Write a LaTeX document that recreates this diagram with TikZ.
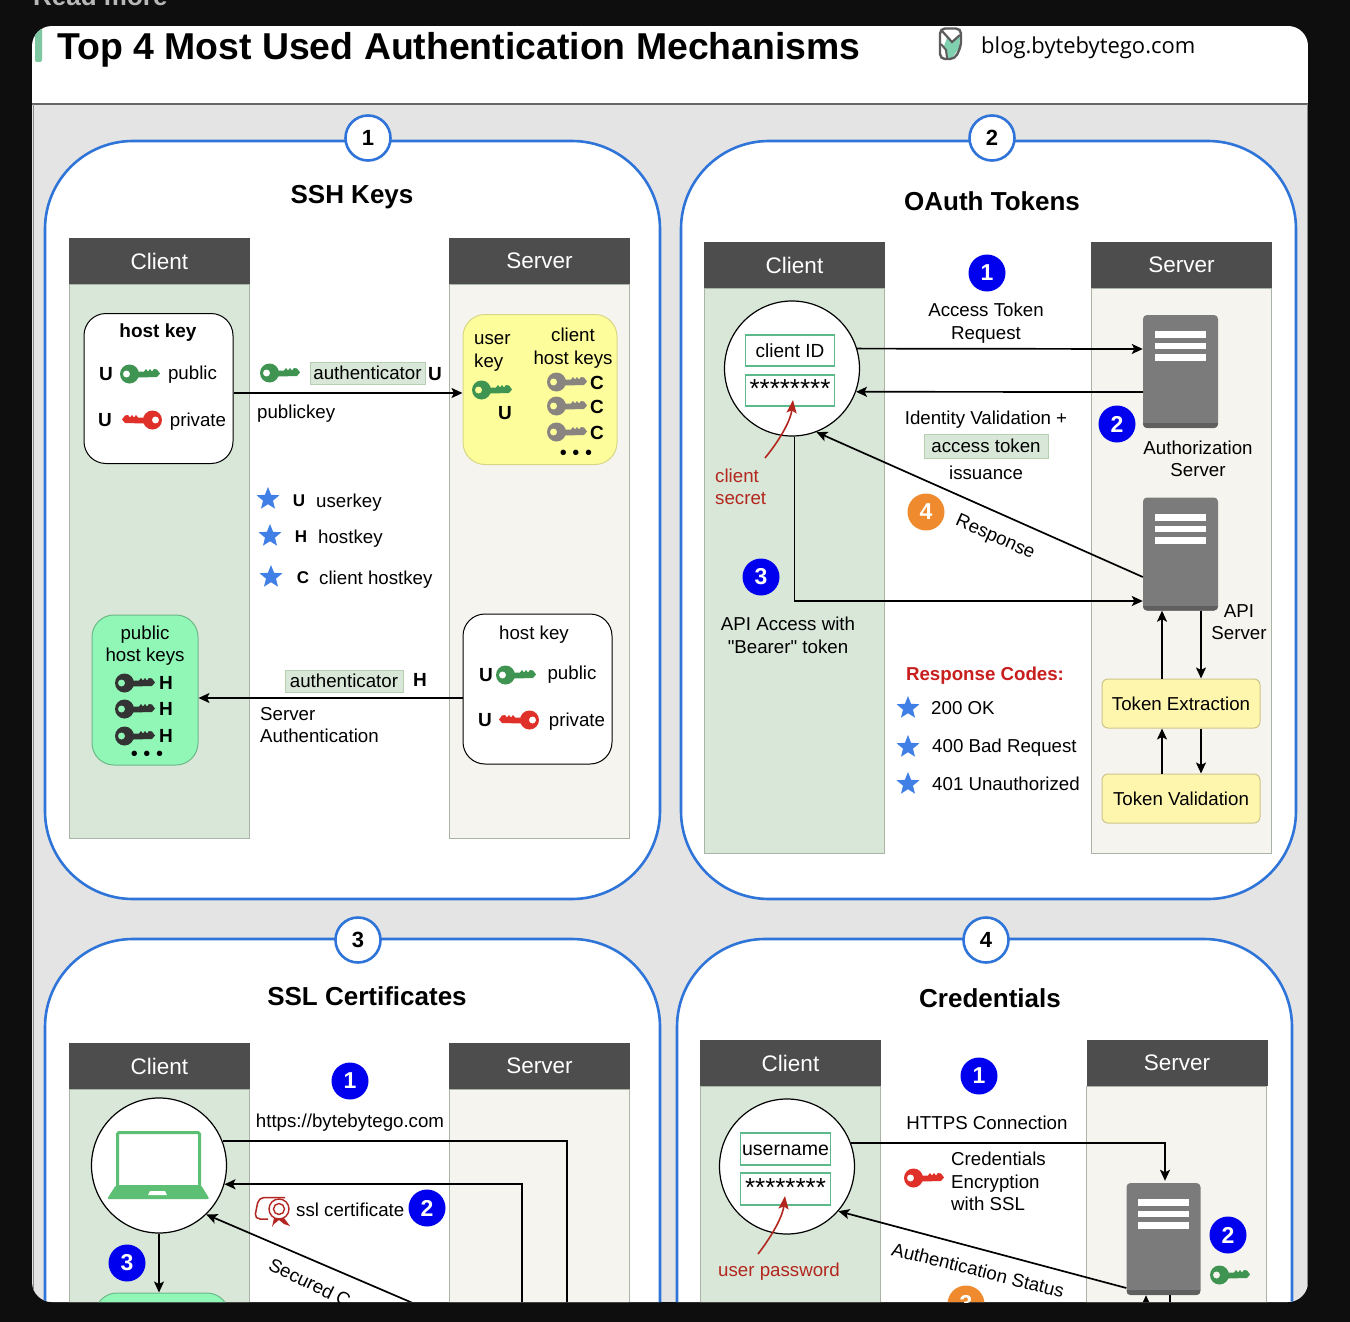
\documentclass[tikz,border=0pt]{standalone}
\usepackage{xcolor}
\usepackage{fontspec}
\setmainfont{Liberation Sans}[Ligatures=TeXOff]
\newfontfamily\blogfont{Open Sans}
\usetikzlibrary{shapes.geometric, arrows.meta, positioning, calc}

\definecolor{pagebg}{HTML}{0E0E0E}
\definecolor{cardgray}{HTML}{E4E4E4}
\definecolor{panelblue}{HTML}{2F74D8}
\definecolor{headgray}{HTML}{4D4D4D}
\definecolor{clientbg}{HTML}{D9E7D8}
\definecolor{serverbg}{HTML}{F6F4EE}
\definecolor{lanerule}{HTML}{A9B3A6}
\definecolor{taggreen}{HTML}{B5CFB0}
\definecolor{fieldgreen}{HTML}{5CB98A}
\definecolor{logoteal}{HTML}{7FD1B0}
\definecolor{keygreen}{HTML}{3E9450}
\definecolor{keyred}{HTML}{E0302A}
\definecolor{keygray}{HTML}{8A8480}
\definecolor{keydark}{HTML}{333333}
\definecolor{softyellow}{HTML}{FDFD9C}
\definecolor{softgreen}{HTML}{90F7B6}
\definecolor{tokenyellow}{HTML}{FFF6AE}
\definecolor{badgeblue}{HTML}{0000EE}
\definecolor{badgeorange}{HTML}{EF8A2E}
\definecolor{starblue}{HTML}{3F7FE6}
\definecolor{srvgray}{HTML}{7B7B7B}
\definecolor{srvdark}{HTML}{5F5F5F}
\definecolor{notered}{HTML}{B3261E}
\definecolor{codered}{HTML}{C81E1E}
\definecolor{lapgreen}{HTML}{5CBF73}
\newcommand{\fsz}[2]{\fontsize{#1}{#2}\selectfont}

\begin{document}
\begin{tikzpicture}[x=1pt, y=-1pt]
% Define styles
\tikzstyle{panel} = [rectangle, rounded corners=88pt, draw=panelblue, line width=2.6pt, fill=white, minimum width=615pt, inner sep=0pt]
\tikzstyle{numring} = [circle, draw=panelblue, line width=2.6pt, fill=white, minimum size=45pt, inner sep=0pt, font=\fsz{22}{24}\bfseries]
\tikzstyle{paneltitle} = [inner sep=0pt, font=\fsz{26}{30}\bfseries]
\tikzstyle{lanehead} = [rectangle, fill=headgray, text=white, minimum width=181pt, minimum height=46pt, inner sep=0pt, font=\fsz{22.5}{26}]
\tikzstyle{clientlane} = [rectangle, draw=lanerule, line width=0.6pt, fill=clientbg, minimum width=180pt, inner sep=0pt]
\tikzstyle{serverlane} = [rectangle, draw=lanerule, line width=0.6pt, fill=serverbg, minimum width=180pt, inner sep=0pt]
\tikzstyle{label} = [inner sep=0pt, align=center, font=\fsz{18.7}{22.5}]
\tikzstyle{leftlabel} = [label, anchor=west, align=left]
\tikzstyle{rednote} = [label, text=notered]
\tikzstyle{keytag} = [inner sep=0pt, font=\fsz{19}{22}\bfseries]
\tikzstyle{dotrow} = [inner sep=0pt, font=\fsz{20}{22}]
\tikzstyle{keybox} = [rectangle, rounded corners=22pt, draw=black, line width=1pt, fill=white, minimum width=149pt, minimum height=150pt, inner sep=0pt]
\tikzstyle{tagbox} = [rectangle, draw=taggreen, line width=1pt, fill=clientbg, inner sep=0pt, minimum height=22pt, font=\fsz{18.7}{22}]
\tikzstyle{field} = [rectangle, draw=fieldgreen, line width=1.3pt, fill=white, minimum width=89pt, minimum height=31pt, inner sep=0pt, font=\fsz{19}{22}]
\tikzstyle{actor} = [circle, draw=black, line width=1.2pt, fill=white, minimum size=135pt, inner sep=0pt]
\tikzstyle{pwstars} = [inner sep=0pt, font=\fsz{26}{26}]
\tikzstyle{stepdot} = [circle, fill=badgeblue, text=white, minimum size=37pt, inner sep=0pt, font=\fsz{23}{24}\bfseries]
\tikzstyle{stepdotb} = [stepdot, fill=badgeorange]
\tikzstyle{bluestar} = [star, star points=5, star point ratio=2.3, fill=starblue, minimum size=24pt, inner sep=0pt]
\tikzstyle{srvbox} = [rectangle, rounded corners=4pt, fill=srvgray, minimum width=75pt, minimum height=113pt, inner sep=0pt, path picture={
  \fill[srvdark, sharp corners] ([yshift=5pt]path picture bounding box.south west) rectangle (path picture bounding box.south east);
  \fill[white, sharp corners] ([xshift=-25.5pt,yshift=-16pt]path picture bounding box.north) rectangle ([xshift=25.5pt,yshift=-23pt]path picture bounding box.north);
  \fill[white, sharp corners] ([xshift=-25.5pt,yshift=-28pt]path picture bounding box.north) rectangle ([xshift=25.5pt,yshift=-34pt]path picture bounding box.north);
  \fill[white, sharp corners] ([xshift=-25.5pt,yshift=-39pt]path picture bounding box.north) rectangle ([xshift=25.5pt,yshift=-46pt]path picture bounding box.north);
}]
\tikzstyle{tokenbox} = [rectangle, rounded corners=6pt, draw=black!20!tokenyellow, line width=1pt, fill=tokenyellow, minimum width=158pt, minimum height=49pt, inner sep=0pt, font=\fsz{18.7}{22}]
\tikzstyle{arrow} = [line width=1.7pt, -{Stealth[length=11pt,width=10pt,inset=2.5pt]}]
\tikzstyle{line} = [line width=1.7pt, -]
\tikzstyle{redarrow} = [line width=1.6pt, -{Stealth[length=13pt,width=10pt,inset=2.5pt]}, draw=notered]
\tikzset{
  pics/keyicon/.style={code={
    \fill[#1, even odd rule] (-10.5,0) circle [radius=9.5] (-13.5,0) circle [radius=3.6];
    \fill[#1] (-2,-2.5) -- (4,-2.5) -- (6,-5) -- (8,-2.5) -- (10,-5) -- (12,-2.5) -- (14,-5) -- (17,-4.5) -- (20,-0.5) -- (17,3) -- (-2,3.5) -- cycle;
  }}
}

\useasboundingbox (0,0) rectangle (1350,1322);
\fill[pagebg] (0,0) rectangle (1350,1322);
\begin{scope}
\clip (0,0) rectangle (1350,1322);
\node (readmore) [anchor=base west, inner sep=0pt, text=black!28, font=\fsz{26}{28}\bfseries] at (33,6) {Read more};
\end{scope}

\begin{scope}
\clip[rounded corners=20pt] (32,26) rectangle (1308,1302);
\fill[white] (32,26) rectangle (1308,104);
\fill[cardgray] (32,104) rectangle (1308,1302);
\draw[black!60, line width=1.2pt] (32,104) -- (1308,104);
\draw[black!45, line width=0.8pt] (33,104) -- (33,1302);
\draw[black!45, line width=0.8pt] (1307,104) -- (1307,1302);
\fill[fieldgreen!80, rounded corners=2pt] (35,28) rectangle (42,62);

% Header
\node (title) [anchor=base west, inner sep=0pt, font=\fsz{37.4}{42}\bfseries] at (57,60) {Top 4 Most Used Authentication Mechanisms};
\fill[logoteal] (947,38) -- (952,42) -- (960,37) -- (959,48) -- (952,58) -- (947,58) -- (944,46) -- cycle;
\draw[keydark!80, line width=2.4pt, rounded corners=5pt] (940,46) -- (940,28.5) -- (961,28.5) -- (961,46) -- (955,59) -- (940,59) -- (940,42);
\draw[keydark!80, line width=2.2pt] (942,31) -- (952,42) -- (960,35);
\draw[keydark!80, line width=2pt] (941,44) -- (946,50) -- (947,58);
\node (blog) [anchor=base west, inner sep=0pt, font=\fsz{22}{24}\blogfont] at (981,54) {blog.bytebytego.com};

% Panel 1
\node (sshpanel) [panel, minimum height=758pt] at (352.5,520) {};
\node (sshnum) [numring] at (368,138) {1};
\node (sshtitle) [paneltitle] at (352,197.5) {SSH Keys};
\node (sshchead) [lanehead] at (159.5,261) {Client};
\node (sshclane) [clientlane, minimum height=554pt, below=0pt of sshchead, xshift=-0.5pt] {};
\node (sshshead) [lanehead] at (539.5,261) {Server};
\node (sshslane) [serverlane, minimum height=554pt, below=0pt of sshshead, xshift=-0.5pt] {};

\node (clienthost) [keybox] at (158.5,388.5) {};
\node (clienthostt) [keytag] at (158,333) {host key};
\node (clientu1) [keytag] at (106,374.5) {U};
\pic at (140,374) {keyicon=keygreen};
\node (clientpub) [label] at (192.5,374.5) {public};
\node (clientu2) [keytag] at (105,420) {U};
\pic[xscale=-1] at (142,420) {keyicon=keyred};
\node (clientpriv) [label] at (198,421.5) {private};

\pic at (280,373) {keyicon=keygreen};
\node (sshauth) [tagbox, minimum width=115pt] at (367.5,373) {authenticator};
\node (sshauthu) [keytag] at (435,374) {U};
\node (pubkeylbl) [leftlabel] at (257,413.5) {publickey};

\node (userkeys) [keybox, draw=black!15!softyellow, fill=softyellow, minimum width=154pt] at (540,389.5) {};
\node (userkeylbl) [leftlabel] at (474,353) {user\\key};
\pic at (492,390) {keyicon=keygreen};
\node (useru) [keytag] at (505,413) {U};
\node (hostkeyslbl) [label] at (573,348) {client\\host keys};
\pic at (567,382) {keyicon=keygray};
\pic at (567,406) {keyicon=keygray};
\pic at (567,432) {keyicon=keygray};
\node (userc1) [keytag] at (597,383) {C};
\node (userc2) [keytag] at (597,407) {C};
\node (userc3) [keytag] at (597,433) {C};
\node (userdots) [dotrow] at (576,455) {• • •};

\node (star1) [bluestar] at (268,499) {};
\node (star2) [bluestar] at (270,536) {};
\node (star3) [bluestar] at (271,577) {};
\node (staru) [keytag, font=\fsz{17}{20}\bfseries] at (299,501) {U};
\node (starh) [keytag, font=\fsz{17}{20}\bfseries] at (301,537) {H};
\node (starc) [keytag, font=\fsz{17}{20}\bfseries] at (303,578) {C};
\node (staruk) [leftlabel] at (316,502.5) {userkey};
\node (starhk) [leftlabel] at (318,538.5) {hostkey};
\node (starch) [leftlabel] at (319,579.5) {client hostkey};

\node (knownhosts) [keybox, draw=black!25!softgreen, fill=softgreen, minimum width=106pt] at (145,690) {};
\node (knownlbl) [label] at (145,645.5) {public\\host keys};
\pic at (135,683) {keyicon=keydark};
\pic at (135,709) {keyicon=keydark};
\pic at (135,736) {keyicon=keydark};
\node (knownh1) [keytag] at (166,683) {H};
\node (knownh2) [keytag] at (166,709) {H};
\node (knownh3) [keytag] at (166,736) {H};
\node (knowndots) [dotrow] at (147,756) {• • •};

\node (serverhost) [keybox] at (537.5,689) {};
\node (serverhostt) [label] at (534,635) {host key};
\node (serveru1) [keytag] at (486,675.5) {U};
\pic at (516,675) {keyicon=keygreen};
\node (serverpub) [label] at (572,675) {public};
\node (serveru2) [keytag] at (485,720.5) {U};
\pic[xscale=-1] at (519,720) {keyicon=keyred};
\node (serverpriv) [label] at (577,722) {private};

\node (srvauth) [tagbox, minimum width=118pt] at (344,681) {authenticator};
\node (srvauthh) [keytag] at (420,680) {H};
\node (srvauthlbl) [leftlabel] at (260,725) {Server\\Authentication};

\draw [arrow] ([yshift=-4.5pt]clienthost.east) -- ([yshift=-3.5pt]userkeys.west);
\draw [arrow] ([yshift=-9pt]serverhost.west) -- ([yshift=-8pt]knownhosts.east);

% Panel 2
\node (oapanel) [panel, minimum height=758pt] at (988.5,520) {};
\node (oanum) [numring] at (992,138) {2};
\node (oatitle) [paneltitle] at (992,201) {OAuth Tokens};
\node (oachead) [lanehead] at (794.5,265) {Client};
\node (oaclane) [clientlane, minimum height=565pt, below=0pt of oachead, xshift=-0.5pt] {};
\node (oashead) [lanehead] at (1181.5,265) {Server};
\node (oaslane) [serverlane, minimum height=565pt, below=0pt of oashead, xshift=-0.5pt] {};

\node (oaclient) [actor] at (792,368.5) {};
\node (clientid) [field] at (790,350.5) {client ID};
\node (clientpw) [field] at (790,390.5) {};
\node (clientstars) [pwstars] at (790,389) {********};
\coordinate (secretfrom) at (765,458);
\coordinate (secretto) at (793,400);
\node (secretlbl) [rednote, align=left, anchor=west] at (715,487) {client\\secret};
\draw [redarrow] (secretfrom) .. controls (783,436) and (791,418) .. (secretto);

\node (oastep1) [stepdot] at (987,273) {1};
\node (tokenreq) [label] at (986,323) {Access Token\\Request};
\node (authsrv) [srvbox] at (1180.5,371.5) {};
\node (oastep2) [stepdot] at (1117,424) {2};
\node (authlbl) [label] at (1198,459) {Authorization\\Server};
\node (idvalid) [label] at (986,420) {Identity Validation +};
\node (accesstok) [tagbox, minimum width=124pt, minimum height=24pt] at (986,446) {access token};
\node (issuance) [label] at (986,473) {issuance};
\node (apisrv) [srvbox] at (1180.5,554) {};
\node (oastep4) [stepdotb] at (926,512) {4};
\node (resplbl) [label, rotate=-24] at (995,538) {Response};
\node (oastep3) [stepdot] at (761,577) {3};
\node (bearer) [label] at (788,635.5) {API Access with\\"Bearer" token};
\node (apilbl) [label] at (1239,622) {API\\Server};
\node (tokenext) [tokenbox] at (1181,703.5) {Token Extraction};
\node (tokenval) [tokenbox] at (1181,798.5) {Token Validation};

\node (codes) [label, text=codered, font=\fsz{18.7}{22}\bfseries] at (985,676) {Response Codes:};
\node (code200star) [bluestar] at (908,708) {};
\node (code400star) [bluestar] at (908,747) {};
\node (code401star) [bluestar] at (908,784) {};
\node (code200) [leftlabel] at (931,708) {200 OK};
\node (code400) [leftlabel] at (932,748) {400 Bad Request};
\node (code401) [leftlabel] at (932,784) {401 Unauthorized};

\draw [arrow] (oaclient.17) -- ([yshift=22.5pt]authsrv.west);
\draw [arrow] ([yshift=-20.5pt]authsrv.west) -- (oaclient.-20);
\draw [arrow] ([yshift=-23pt]apisrv.west) -- (oaclient.-69);
\draw [arrow] (oaclient.-88) |- ([yshift=-47pt]apisrv.west);
\draw [arrow] ([xshift=-19pt]tokenext.north) -- ([xshift=-18.5pt]apisrv.south);
\draw [arrow] ([xshift=20.5pt]apisrv.south) -- ([xshift=20pt]tokenext.north);
\draw [arrow] ([xshift=-19pt]tokenval.north) -- ([xshift=-19pt]tokenext.south);
\draw [arrow] ([xshift=20pt]tokenext.south) -- ([xshift=20pt]tokenval.north);

% Panel 3
\node (sslpanel) [panel, minimum height=758pt] at (352.5,1318) {};
\node (sslnum) [numring] at (358,940) {3};
\node (ssltitle) [paneltitle] at (367,996) {SSL Certificates};
\node (sslchead) [lanehead] at (159.5,1066) {Client};
\node (sslclane) [clientlane, minimum height=300pt, below=0pt of sslchead, xshift=-0.5pt] {};
\node (sslshead) [lanehead] at (539.5,1066) {Server};
\node (sslslane) [serverlane, minimum height=300pt, below=0pt of sslshead, xshift=-0.5pt] {};

\node (sslclient) [actor] at (159,1165.5) {};
\draw[lapgreen, line width=3pt, fill=white, rounded corners=1.5pt] (117.5,1187) -- (117.5,1132.5) -- (199.5,1132.5) -- (199.5,1187);
\fill[lapgreen, rounded corners=2pt] (116,1185) -- (201,1185) -- (209.5,1199) -- (107,1199) -- cycle;
\fill[white] (150,1191) -- (165,1191) -- (167,1195) -- (148,1195) -- cycle;
\node (sslstep1) [stepdot] at (350,1081) {1};
\node (ssllink) [label] at (350,1123) {https://bytebytego.com};
\draw[keyred!80!black, line width=1.5pt, rounded corners=2pt] (268,1219) -- (258,1219) -- (255,1216) -- (258,1201) -- (262,1197.5) -- (285,1197.5);
\draw[keyred!80!black, line width=1.4pt, fill=white] (279,1209) circle [radius=10];
\draw[keyred!80!black, line width=1.4pt] (279,1209) circle [radius=5.5];
\fill[keyred!80!black] (274,1218) -- (284,1218) -- (290,1226) -- (284,1224) -- (279,1220) -- (274,1224) -- (272,1227) -- cycle;
\node (ssllbl) [leftlabel] at (296,1210) {ssl certificate};
\node (sslstep2) [stepdot] at (427,1208) {2};
\node (sslstep3) [stepdot] at (127,1263) {3};
\node (secured) [label, rotate=-26, anchor=west] at (270,1263) {Secured C};
\node (sslstore) [keybox, draw=black!25!softgreen, fill=softgreen, minimum width=134pt, minimum height=100pt] at (162,1343) {};
\coordinate (sslout1) at (567,1310);
\coordinate (sslout2) at (522,1310);
\coordinate (sslout3) at (429,1310);

\draw [line] (sslclient.21) -| (sslout1);
\draw [arrow] (sslout2) |- (sslclient.-16);
\draw [arrow] (sslout3) -- (sslclient.-46);
\draw [arrow] (sslclient.south) -- (sslclient.south |- sslstore.north);

% Panel 4
\node (credpanel) [panel, minimum height=758pt] at (984.5,1318) {};
\node (crednum) [numring] at (986,940) {4};
\node (credtitle) [paneltitle] at (990,998) {Credentials};
\node (credchead) [lanehead] at (790.5,1063) {Client};
\node (credclane) [clientlane, minimum height=300pt, below=0pt of credchead, xshift=-0.5pt] {};
\node (credshead) [lanehead] at (1177,1063) {Server};
\node (credslane) [serverlane, minimum height=300pt, below=0pt of credshead, xshift=-0.5pt] {};

\node (credclient) [actor] at (787,1166.5) {};
\node (username) [field, minimum width=90pt, minimum height=32pt] at (785.5,1149) {};
\node (usernamet) [label, font=\fsz{19.5}{22}] at (785.5,1150.5) {username};
\node (userpw) [field, minimum width=90pt, minimum height=32pt] at (785.5,1189) {};
\node (userstars) [pwstars] at (785.5,1188) {********};
\coordinate (pwfrom) at (758,1254);
\coordinate (pwto) at (785,1196);
\node (pwlbl) [rednote, anchor=west] at (718,1272) {user password};
\draw [redarrow] (pwfrom) .. controls (775,1232) and (783,1214) .. (pwto);

\node (credstep1) [stepdot] at (979,1076) {1};
\node (httpslbl) [label] at (987,1123) {HTTPS Connection};
\pic at (924,1178) {keyicon=keyred};
\node (enclbl) [leftlabel] at (951,1181.5) {Credentials\\Encryption\\with SSL};
\node (credsrv) [srvbox, minimum width=74pt, minimum height=112pt] at (1163.5,1239) {};
\node (credstep2) [stepdot] at (1228,1235) {2};
\pic at (1230,1275) {keyicon=keygreen};
\node (statuslbl) [label, rotate=-14] at (978,1270) {Authentication Status};
\node (credstep3) [stepdotb] at (966,1304) {3};
\coordinate (credout1) at (1146,1312);
\coordinate (credout2) at (1170,1312);

\draw [arrow] (credclient.20) -| ([xshift=1.5pt,yshift=2pt]credsrv.north);
\draw [arrow] ([yshift=-49pt]credsrv.west) -- (credclient.-41);
\draw [arrow] (credout1) -- (credout1 |- credsrv.south);
\draw [line] (credout2 |- credsrv.south) -- (credout2);
\end{scope}
\end{tikzpicture}
\end{document}
